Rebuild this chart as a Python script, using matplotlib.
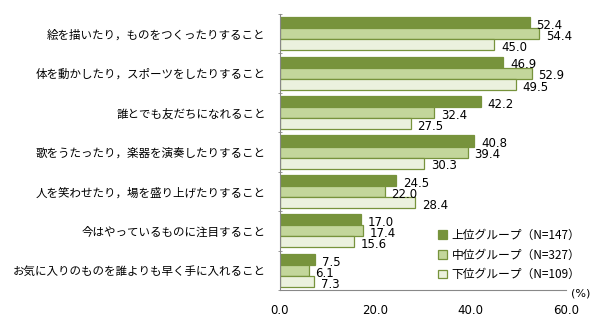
import matplotlib
matplotlib.use("Agg")
import matplotlib.pyplot as plt
import numpy as np

plt.rcParams['font.family'] = ['Noto Sans CJK JP', 'DejaVu Sans']

categories = [
    "絵を描いたり，ものをつくったりすること",
    "体を動かしたり，スポーツをしたりすること",
    "誰とでも友だちになれること",
    "歌をうたったり，楽器を演奏したりすること",
    "人を笑わせたり，場を盛り上げたりすること",
    "今はやっているものに注目すること",
    "お気に入りのものを誰よりも早く手に入れること",
]
upper = [52.4, 46.9, 42.2, 40.8, 24.5, 17.0, 7.5]
middle = [54.4, 52.9, 32.4, 39.4, 22.0, 17.4, 6.1]
lower = [45.0, 49.5, 27.5, 30.3, 28.4, 15.6, 7.3]
series_labels = ["上位グループ（N=147）", "中位グループ（N=327）", "下位グループ（N=109）"]
xticks = [0, 20, 40, 60]

faces = ["#77933C", "#C3D69B", "#EBF1DE"]
edge = "#77933C"

fig = plt.figure(figsize=(6.0, 3.27), dpi=100)
ax = fig.add_axes([0.466, 0.113, 0.477, 0.844])

n = len(categories)
y = np.arange(n)
h = 0.28
handles = []
for k, (vals, fc) in enumerate(zip([upper, middle, lower], faces)):
    pos = y + (k - 1) * h
    b = ax.barh(pos, vals, height=h, color=fc, edgecolor=edge, linewidth=0.9)
    handles.append(b)
    for p, v in zip(pos, vals):
        ax.text(v + 1.4, p + 0.07, f"{v:.1f}", va="center", ha="left",
                fontsize=8.5, family="DejaVu Sans")

ax.set_ylim(n - 0.5, -0.5)
ax.set_xlim(0, 60)
ax.set_xticks(xticks)
ax.set_xticklabels([f"{t:.1f}" for t in xticks], fontsize=8.5, family="DejaVu Sans")
ax.tick_params(axis="x", length=0, pad=10)
ax.set_yticks(y)
ax.set_yticklabels(categories, fontsize=8.3)
ax.tick_params(axis="y", length=0, pad=10)
ax.set_yticks(np.arange(n + 1) - 0.5, minor=True)
ax.tick_params(axis="y", which="minor", length=3, direction="inout", color="#888888")

for s in ["top", "right"]:
    ax.spines[s].set_visible(False)
ax.spines["left"].set_color("#888888")
ax.spines["bottom"].set_color("#888888")

fig.text(0.967, 0.103, "(%)", fontsize=8, family="DejaVu Sans", ha="center", va="center")

ax.legend(handles, series_labels, loc="upper left", bbox_to_anchor=(0.538, 0.24),
          frameon=False, fontsize=8.5, handlelength=0.75, handleheight=0.75,
          handletextpad=0.4, labelspacing=0.58, borderaxespad=0)

fig.savefig("out.png", dpi=100, facecolor="white")
